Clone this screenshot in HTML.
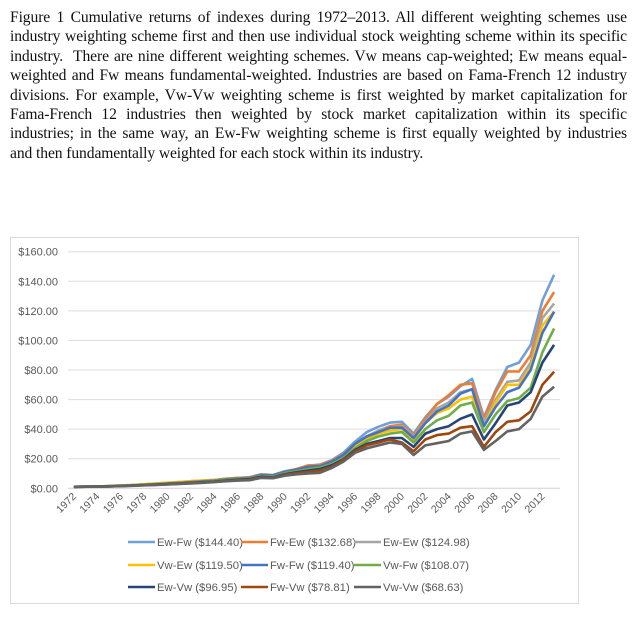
<!DOCTYPE html>
<html><head><meta charset="utf-8"><style>
body{margin:0;background:#fff;width:640px;height:629px;overflow:hidden;position:relative}
#cap{position:absolute;left:10px;top:8px;width:617px;font-family:"Liberation Serif",serif;font-size:15.6px;color:#111;letter-spacing:-0.1px}
#cap div{height:19.4px;line-height:19.4px;text-align:justify;text-align-last:justify;white-space:nowrap;overflow:hidden}
#cap div.last{text-align-last:left}
svg{position:absolute;left:0;top:0}
</style></head><body>
<div id="cap">
<div>Figure 1 Cumulative returns of indexes during 1972–2013. All different weighting schemes use</div>
<div>industry weighting scheme first and then use individual stock weighting scheme within its specific</div>
<div>industry.&nbsp; There are nine different weighting schemes. Vw means cap-weighted; Ew means equal-</div>
<div>weighted and Fw means fundamental-weighted. Industries are based on Fama-French 12 industry</div>
<div>divisions. For example, Vw-Vw weighting scheme is first weighted by market capitalization for</div>
<div>Fama-French 12 industries then weighted by stock market capitalization within its specific</div>
<div>industries; in the same way, an Ew-Fw weighting scheme is first equally weighted by industries</div>
<div class="last">and then fundamentally weighted for each stock within its industry.</div>
</div>
<svg id="chart" width="640" height="629"></svg>
<script>
const years=[];for(let y=1972;y<=2013;y++)years.push(y);
const yTicks=[0,20,40,60,80,100,120,140,160];
const names=["Ew-Fw ($144.40)","Fw-Ew ($132.68)","Ew-Ew ($124.98)","Vw-Ew ($119.50)","Fw-Fw ($119.40)","Vw-Fw ($108.07)","Ew-Vw ($96.95)","Fw-Vw ($78.81)","Vw-Vw ($68.63)"];
const colors=["#6fa0d8","#ed7d31","#a5a5a5","#ffc000","#4472c4","#70ad47","#264478","#9e480e","#636363"];
const ewFw=[1,1.1,1.2,1.5,1.8,2.1,2.5,3,3.5,4,4.5,5,5.5,6.5,7,7.5,9.5,9,11.5,13,15,16,19,24,31.5,38,41.6,44.4,45,37,48,57,62,69,74,48,66.5,82,85,97,127,144.4];
const fwEw=[1,1.1,1.2,1.5,1.8,2.2,2.7,3.2,3.7,4.2,4.8,5.2,5.7,6.5,7,7.4,9.2,8.8,11.3,13,15.5,15.8,18.5,23,30,35,39,42,43,36,47,57,63,70,71,47,65,79,79,90,120,132.68];
const ewEw=[1,1.1,1.2,1.4,1.7,2,2.4,2.9,3.4,3.8,4.3,4.8,5.3,6.2,6.7,7.1,9,8.6,11,12.5,14,15,17.5,22,30,35,39,41,42,35,45,54,58,65,67,45,60,72,73,85,115,124.98];
const vwEw=[1,1.1,1.2,1.5,1.8,2.2,2.7,3.2,3.8,4.2,4.8,5.2,5.6,6.3,6.7,7,8.8,8.4,10.6,12,13.5,14.5,17,21,28,33,37,39,40,33,44,51,54,60,62,42,58,70,70,82,110,119.5];
const fwFw=[1,1.1,1.2,1.4,1.7,2,2.4,2.8,3.3,3.7,4.2,4.7,5.2,6.1,6.6,7,9,8.7,11,12.6,14.5,15,18,22.5,30,35,38,41,41,34,44,52,56,64,67,42,55,65,68,80,105,119.4];
const vwFw=[1,1.1,1.2,1.4,1.6,1.9,2.3,2.7,3.1,3.5,3.9,4.4,4.9,5.7,6.2,6.6,8.4,8,10.2,11.6,13,14,16.5,20.5,27,32,35,37,38,31,40,46,49,56,58,38,50,59,61,68,92,108.07];
const ewVw=[1,1.05,1.15,1.35,1.6,1.8,2.2,2.5,2.9,3.3,3.7,4.1,4.6,5.3,5.8,6.2,7.8,7.4,9.5,10.8,12,13,15.5,19.5,26,30,32,34,34,28,37,40,42,47,50,33,44,56,58,65,85,96.95];
const fwVw=[1,1.05,1.1,1.3,1.55,1.75,2.1,2.4,2.7,3.1,3.5,3.9,4.4,5,5.4,5.8,7.3,7,9,10.2,11,12,14.5,19,25,29,31,33,31,25,33,36,37,41,42,28,38,45,46,52,70,78.81];
const vwVw=[1,1.05,1.1,1.3,1.5,1.7,2,2.3,2.6,3,3.3,3.7,4.2,4.8,5.2,5.5,7,6.8,8.5,9.5,10,10.5,13.7,18,24,27,29,31,30,22.5,29,30.5,32,37,38.5,26,32,38.5,40,47,62,68.63];
const series=[ewFw,fwEw,ewEw,vwEw,fwFw,vwFw,ewVw,fwVw,vwVw];
const NS="http://www.w3.org/2000/svg",svg=document.getElementById('chart');
const X0=68,X1=560,Y0=488.3,Y1=251.7;
const bw=(X1-X0)/years.length;
const xs=i=>X0+bw*(i+0.5);
const ys=v=>Y0-(v/160)*(Y0-Y1);
function mk(t,a,p){const e=document.createElementNS(NS,t);for(const k in a)e.setAttribute(k,a[k]);(p||svg).appendChild(e);return e;}
const box=mk('rect',{x:10.5,y:237.5,width:568,height:366,fill:'#fff',stroke:'#d9d9d9'});


yTicks.forEach(t=>{
 const g=mk('line',{x1:X0,x2:X1,y1:ys(t),y2:ys(t),stroke:t===0?'#d0d0d0':'#dedede','stroke-width':1});
 
 
 const l=mk('text',{x:58,y:ys(t)+4,'text-anchor':'end','font-family':'Liberation Sans, sans-serif','font-size':'11',fill:'#595959'});
 l.textContent='$'+t.toFixed(2);
 
 
});
years.forEach((y,i)=>{
 if(i%2)return;
 const x=xs(i)+3,yy=497;
 const l=mk('text',{x:x,y:yy,'text-anchor':'end','font-family':'Liberation Sans, sans-serif','font-size':'10.5',fill:'#595959',transform:'rotate(-45 '+x+' '+yy+')'});
 l.textContent=y;
 
 
});
series.forEach((s,k)=>{
 const d=s.map((v,i)=>(i?'L':'M')+xs(i).toFixed(1)+' '+ys(v).toFixed(1)).join(' ');
 const p=mk('path',{d:d,fill:'none',stroke:colors[k],'stroke-width':2.6,'stroke-linejoin':'round'});
 
 
});
const lx=[128,241,354],ly=[542,565,587];
names.forEach((n,k)=>{
 const x=lx[k%3],y=ly[Math.floor(k/3)];
 const g=mk('g',{});
 
 
 mk('line',{x1:x,x2:x+27,y1:y,y2:y,stroke:colors[k],'stroke-width':2.6},g);
 const t=mk('text',{x:x+29,y:y+4,'font-family':'Liberation Sans, sans-serif','font-size':'11.3',fill:'#595959'},g);
 t.textContent=n;
});
</script>
</body></html>
